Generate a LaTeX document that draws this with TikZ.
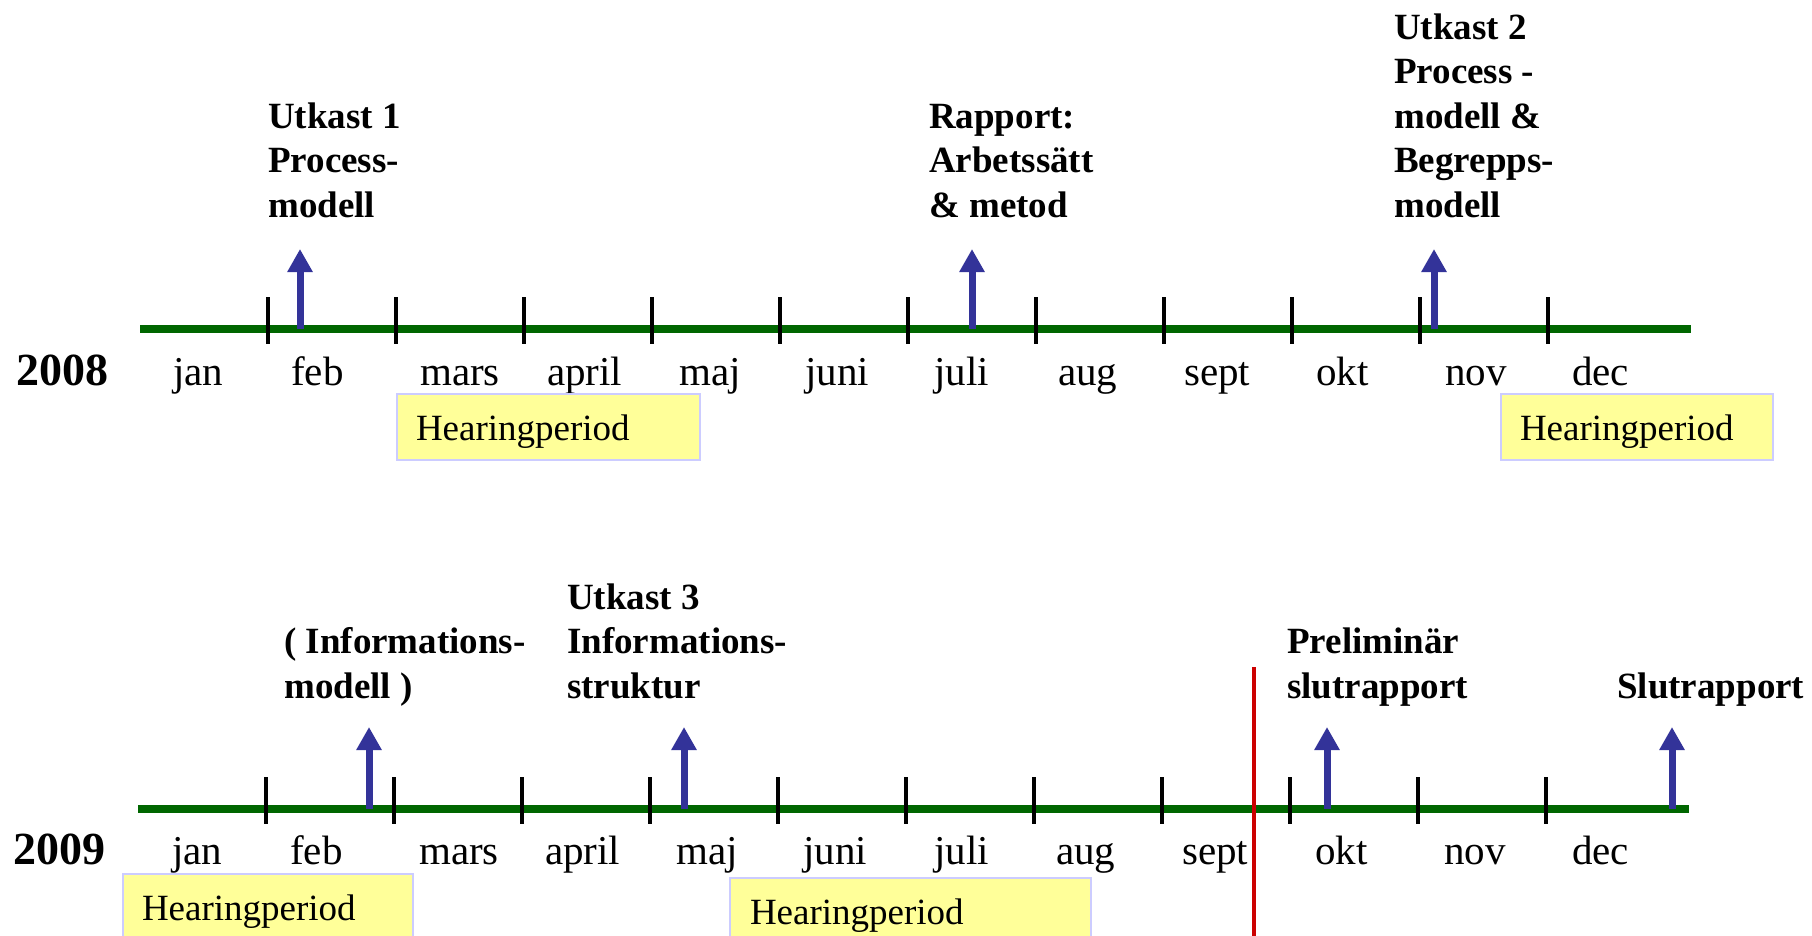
\documentclass[tikz,border=0pt]{standalone}
\usepackage{fontspec}
\setmainfont{Liberation Serif}
\usetikzlibrary{arrows.meta}
\definecolor{tgreen}{HTML}{006600}
\definecolor{ablue}{HTML}{333399}
\definecolor{rline}{HTML}{CC0000}
\definecolor{hyellow}{HTML}{FFFF99}
\definecolor{lav}{HTML}{CCCCFF}
\tikzset{
  month/.style={font=\fontsize{41}{41}\selectfont, anchor=base west, inner sep=0pt},
  milestone/.style={font=\bfseries\fontsize{37}{44.5}\selectfont, anchor=base west, inner sep=0pt, align=left},
  yearlabel/.style={font=\bfseries\fontsize{46}{46}\selectfont, anchor=base west, inner sep=0pt},
  hear/.style={draw=lav, line width=2pt, fill=hyellow, anchor=north west, minimum height=66pt,
    font=\fontsize{37}{37}\selectfont, inner xsep=19pt, inner ysep=0pt, align=left,
    text height=32pt, text depth=6pt},
  axis/.style={draw=tgreen, line width=7.5pt},
  monthtick/.style={draw=black, line width=3.5pt},
  milearrow/.style={draw=ablue, line width=7pt, -{Triangle[width=24pt,length=23pt]}},
  redline/.style={draw=rline, line width=4.5pt},
}
\begin{document}
\begin{tikzpicture}[x=1pt,y=-1pt]
\useasboundingbox (0,0) rectangle (1812,935);
\clip (0,0) rectangle (1812,935);

% ---------- 2008 ----------
\coordinate (a08s) at (140,329);
\coordinate (a08e) at (1691,329);
\draw[axis] (a08s) -- (a08e);
\foreach \k in {0,...,10} {
  \coordinate (t08a\k) at (268+128*\k,297);
  \coordinate (t08b\k) at (268+128*\k,344);
  \draw[monthtick] (t08a\k) -- (t08b\k);
}
\node[yearlabel] (y08) at (16,385) {2008};
\foreach \m/\x [count=\i] in {jan/173,feb/291,mars/420,april/547,maj/679,juni/805,juli/934,aug/1058,sept/1184,okt/1316,nov/1445,dec/1572}
  \node[month] (m08\i) at (\x,385) {\m};

% anchor = baseline of the last line
\node[milestone] (u1) at (268,217) {Utkast 1\\Process-\\modell};
\node[milestone] (rap) at (929,217) {Rapport:\\Arbetssätt\\\& metod};
\node[milestone] (u2) at (1394,217) {Utkast 2\\Process -\\modell \&\\Begrepps-\\modell};

\foreach \n/\x in {p1/300,p2/972,p3/1434} {
  \coordinate (\n s) at (\x,329);
  \coordinate (\n e) at (\x,249);
  \draw[milearrow] (\n s) -- (\n e);
}

\node[hear, minimum width=303pt, text width=265pt] (h1) at (396,393) {Hearingperiod};
\node[hear, minimum width=272pt, text width=234pt] (h2) at (1500,393) {Hearingperiod};

% ---------- 2009 ----------
\coordinate (a09s) at (138,809);
\coordinate (a09e) at (1689,809);
\draw[axis] (a09s) -- (a09e);
\foreach \k in {0,...,10} {
  \coordinate (t09a\k) at (266+128*\k,777);
  \coordinate (t09b\k) at (266+128*\k,824);
  \draw[monthtick] (t09a\k) -- (t09b\k);
}
\node[yearlabel] (y09) at (13,864) {2009};
\foreach \m/\x [count=\i] in {jan/172,feb/290,mars/419,april/545,maj/676,juni/803,juli/934,aug/1056,sept/1182,okt/1315,nov/1444,dec/1572}
  \node[month] (m09\i) at (\x,864) {\m};

\node[milestone] (inf) at (284,698) {( Informations-\\modell )};
\node[milestone] (u3) at (567,698) {Utkast 3\\Informations-\\struktur};
\node[milestone] (pre) at (1287,698) {Preliminär\\slutrapport};
\node[milestone] (slut) at (1617,698) {Slutrapport};

\foreach \n/\x in {q1/369,q2/684,q3/1327,q4/1672} {
  \coordinate (\n s) at (\x,809);
  \coordinate (\n e) at (\x,727);
  \draw[milearrow] (\n s) -- (\n e);
}

\node[hear, minimum width=290pt, text width=252pt] (h3) at (122,873) {Hearingperiod};
\node[hear, minimum width=361pt, text width=321pt, inner xsep=20pt] (h4) at (729,877) {Hearingperiod};

\coordinate (rt) at (1254,667);
\coordinate (rb) at (1254,940);
\draw[redline] (rt) -- (rb);
\end{tikzpicture}
\end{document}
